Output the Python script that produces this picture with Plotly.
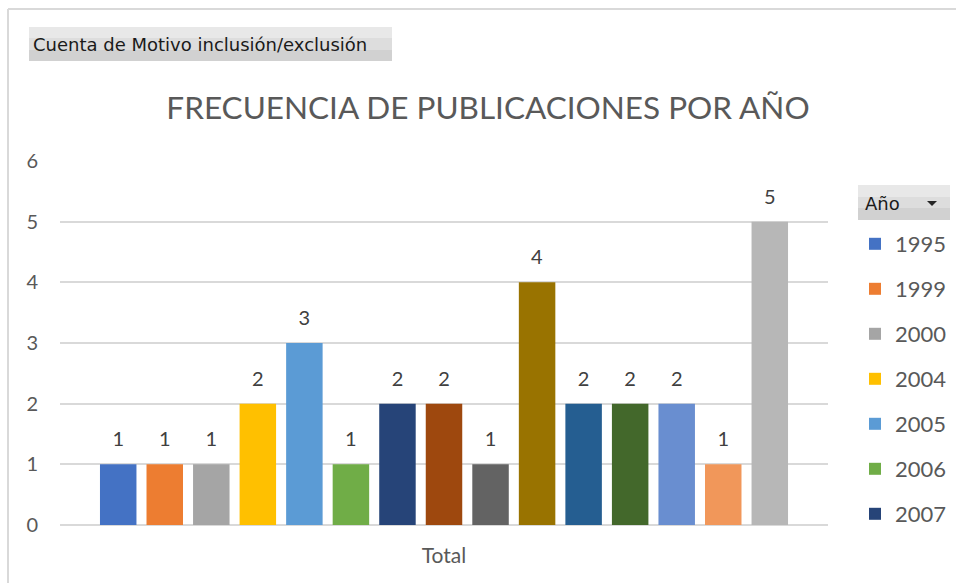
import plotly.graph_objects as go

years = ["1995", "1999", "2000", "2004", "2005", "2006", "2007",
         "2008", "2009", "2010", "2011", "2012", "2013", "2014", "2015"]
counts = [1, 1, 1, 2, 3, 1, 2, 2, 1, 4, 2, 2, 2, 1, 5]
colors = ["#4472C4", "#ED7D31", "#A5A5A5", "#FFC000", "#5B9BD5", "#70AD47",
          "#264478", "#9E480E", "#636363", "#997300", "#255E91", "#43682B",
          "#698ED0", "#F1975A", "#B7B7B7"]
legend_shown = 7
category = ["Total"]
y_ticks = [0, 1, 2, 3, 4, 5, 6]

FONT = "Lato, 'Open Sans', sans-serif"
BTN_FONT = "'DejaVu Sans', sans-serif"

fig = go.Figure()
for i, (yr, c, col) in enumerate(zip(years, counts, colors)):
    fig.add_trace(go.Bar(
        x=category, y=[c], name=yr, marker=dict(color=col, line=dict(width=0)),
        text=[f"<span style='font-size:20px'>{c}</span><br> "],
        textposition="outside", cliponaxis=False,
        textfont=dict(family=FONT, size=10, color="#404040"),
        showlegend=i < legend_shown, legendgroup=yr,
    ))

W, H = 956, 583
L, R, T, B = 60, 128, 161, 58
pw, ph = W - L - R, H - T - B

def px(x):
    return (x - L) / pw

def py(y):
    return (H - B - y) / ph

shapes = [
    # outer chart frame (top and left edges visible)
    dict(type="line", xref="paper", yref="paper", x0=px(8), x1=px(956), y0=py(9), y1=py(9),
         line=dict(color="#D9D9D9", width=2)),
    dict(type="line", xref="paper", yref="paper", x0=px(8), x1=px(8), y0=py(9), y1=py(583),
         line=dict(color="#D9D9D9", width=2)),
    # field button top-left (pseudo gradient)
    dict(type="rect", xref="paper", yref="paper", x0=px(29), x1=px(392), y0=py(27), y1=py(38),
         fillcolor="#E8E8E8", line=dict(width=0), layer="below"),
    dict(type="rect", xref="paper", yref="paper", x0=px(29), x1=px(392), y0=py(38), y1=py(50),
         fillcolor="#DDDDDD", line=dict(width=0), layer="below"),
    dict(type="rect", xref="paper", yref="paper", x0=px(29), x1=px(392), y0=py(50), y1=py(61),
         fillcolor="#D1D1D1", line=dict(width=0), layer="below"),
    # legend field button
    dict(type="rect", xref="paper", yref="paper", x0=px(858), x1=px(950), y0=py(185), y1=py(197),
         fillcolor="#E8E8E8", line=dict(width=0), layer="below"),
    dict(type="rect", xref="paper", yref="paper", x0=px(858), x1=px(950), y0=py(197), y1=py(208),
         fillcolor="#DDDDDD", line=dict(width=0), layer="below"),
    dict(type="rect", xref="paper", yref="paper", x0=px(858), x1=px(950), y0=py(208), y1=py(220),
         fillcolor="#D1D1D1", line=dict(width=0), layer="below"),
    dict(type="path", xref="paper", yref="paper",
         path=f"M {px(927)} {py(201)} L {px(937)} {py(201)} L {px(932)} {py(206)} Z",
         fillcolor="#262626", line=dict(width=0)),
]

annotations = [
    dict(text="Cuenta de Motivo inclusión/exclusión", xref="paper", yref="paper",
         x=px(31), y=py(44), xanchor="left", yanchor="middle", showarrow=False,
         font=dict(family=BTN_FONT, size=18, color="#1A1A1A")),
    dict(text="Año", xref="paper", yref="paper",
         x=px(863), y=py(203), xanchor="left", yanchor="middle", showarrow=False,
         font=dict(family=BTN_FONT, size=18, color="#1A1A1A")),
]

fig.update_layout(
    width=W, height=H,
    margin=dict(l=L, r=R, t=T, b=B, autoexpand=False),
    paper_bgcolor="white", plot_bgcolor="white",
    title=dict(text="FRECUENCIA DE PUBLICACIONES POR AÑO", x=488 / W, xanchor="center",
               y=1 - 108 / H, yanchor="middle",
               font=dict(family=FONT, size=31.5, color="#595959")),
    barmode="group", bargap=0.091, bargroupgap=0.216,
    xaxis=dict(showgrid=False, showline=False, zeroline=False, ticks="",
               tickfont=dict(family=FONT, size=21, color="#595959"), ticklabelstandoff=16),
    yaxis=dict(range=[0, 6], tickvals=y_ticks, showgrid=True, gridcolor="#D9D9D9", gridwidth=2,
               zeroline=True, zerolinecolor="#D9D9D9", zerolinewidth=2, showline=False,
               tickfont=dict(family=FONT, size=20, color="#595959"), ticklabelstandoff=21),
    legend=dict(x=px(855), y=py(223), xanchor="left", yanchor="top",
                font=dict(family=FONT, size=22, color="#595959"),
                tracegroupgap=13.4, traceorder="grouped", bgcolor="rgba(0,0,0,0)"),
    shapes=shapes, annotations=annotations,
)

fig.write_html("out.html", config={"displayModeBar": False},
               post_script="document.body.style.margin='0px';")
